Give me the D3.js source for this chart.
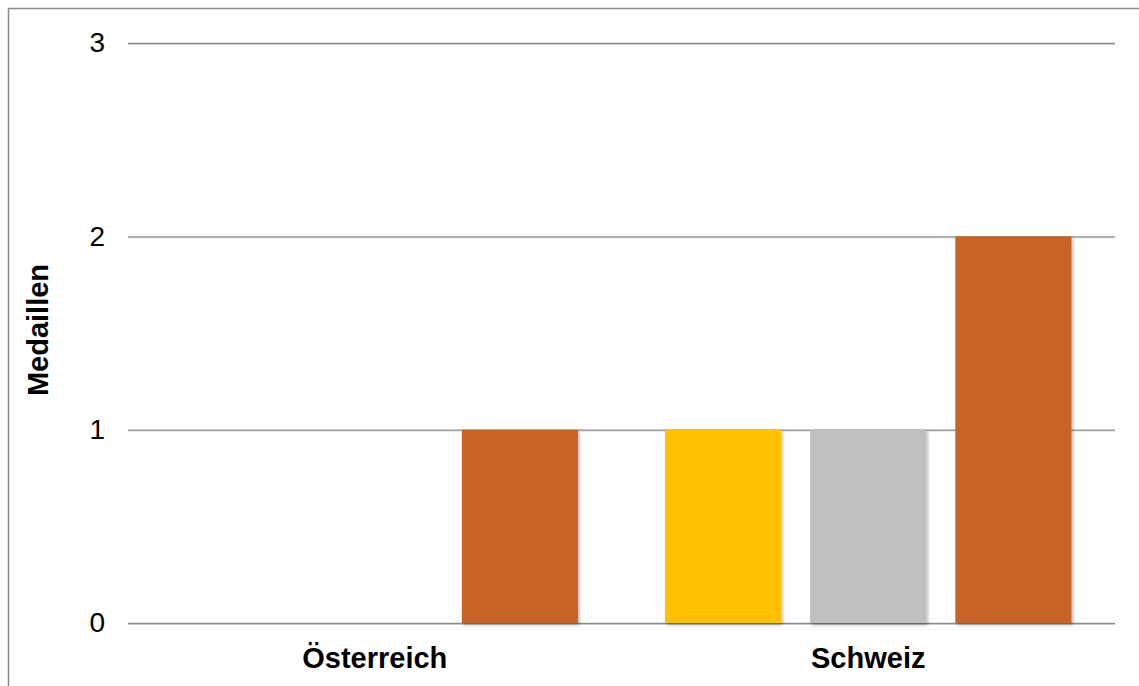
<!DOCTYPE html>
<html>
<head>
<meta charset="utf-8">
<script src="https://cdn.jsdelivr.net/npm/d3@7"></script>
<style>
  html, body { margin: 0; padding: 0; background: #fff; }
  svg { display: block; font-family: "Liberation Sans", Arial, sans-serif; }
</style>
</head>
<body>
<svg id="chart" width="1139" height="686"></svg>
<script>
// Medal counts per country
const categories = ["Österreich", "Schweiz"];
const series = ["Gold", "Silber", "Bronze"];
const gold = [0, 1];
const silver = [0, 1];
const bronze = [1, 2];
const yTicks = [0, 1, 2, 3];
const colors = ["#FFC000", "#BFBFBF", "#CA6325"];

const values = [gold, silver, bronze];
const rows = categories.map((c, i) => ({
  category: c,
  items: series.map((s, j) => ({ series: s, value: values[j][i], color: colors[j] }))
}));

const svg = d3.select("#chart");
const plot = { left: 128, right: 1115, top: 43, bottom: 623 };
const fontFamily = "'Liberation Sans', Arial, sans-serif";

const defs = svg.append("defs");
const shadow = defs.append("filter").attr("id", "shadow")
  .attr("x", "-10%").attr("y", "-10%").attr("width", "130%").attr("height", "130%");
shadow.append("feDropShadow")
  .attr("dx", 1.5).attr("dy", 2).attr("stdDeviation", 1.8)
  .attr("flood-color", "#000").attr("flood-opacity", 0.3);

// Outer frame (top and left edges visible)
svg.append("path")
  .attr("d", "M8.5,700 V8.5 H1145")
  .attr("fill", "none").attr("stroke", "#8a8a8a").attr("stroke-width", 1.5);

const y = d3.scaleLinear().domain([0, 3]).range([plot.bottom, plot.top]);
const x0 = d3.scaleBand().domain(categories).range([plot.left, plot.right]).padding(0);
const x1 = d3.scaleBand().domain(series).range([0, x0.bandwidth()])
  .paddingInner(0.2).paddingOuter(0.3);

// Soft shadow under each gridline
svg.append("g").selectAll("line").data(yTicks).join("line")
  .attr("x1", plot.left).attr("x2", plot.right)
  .attr("y1", d => y(d) + 1.5).attr("y2", d => y(d) + 1.5)
  .attr("stroke", "#e2e2e2").attr("stroke-width", 1.2);

// Horizontal gridlines with value labels
const yAxis = d3.axisLeft(y).tickValues(yTicks).tickFormat(d3.format("d"))
  .tickSize(-(plot.right - plot.left)).tickPadding(23);
const gy = svg.append("g").attr("transform", `translate(${plot.left},0)`).call(yAxis);
gy.select(".domain").remove();
gy.selectAll(".tick line").attr("stroke", "#8c8c8c").attr("stroke-width", 1.4);
gy.selectAll(".tick text").attr("font-size", 28).attr("fill", "#000")
  .attr("font-family", fontFamily);

// Bars
const groups = svg.append("g").selectAll("g").data(rows).join("g")
  .attr("transform", d => `translate(${x0(d.category)},0)`);
groups.selectAll("rect").data(d => d.items.filter(it => it.value > 0)).join("rect")
  .attr("x", d => x1(d.series))
  .attr("width", x1.bandwidth())
  .attr("y", d => y(d.value))
  .attr("height", d => y(0) - y(d.value))
  .attr("fill", d => d.color)
  .attr("filter", "url(#shadow)");

// Category labels
const xAxis = d3.axisBottom(x0).tickSize(0).tickPadding(24);
const gx = svg.append("g").attr("transform", `translate(0,${plot.bottom})`).call(xAxis);
gx.select(".domain").remove();
gx.selectAll(".tick text").attr("font-size", 29).attr("font-weight", "bold").attr("fill", "#000")
  .attr("font-family", fontFamily);

// Y axis title
svg.append("text")
  .attr("transform", "translate(48,330) rotate(-90)")
  .attr("text-anchor", "middle")
  .attr("font-size", 29).attr("font-weight", "bold")
  .attr("font-family", fontFamily)
  .text("Medaillen");
</script>
</body>
</html>
